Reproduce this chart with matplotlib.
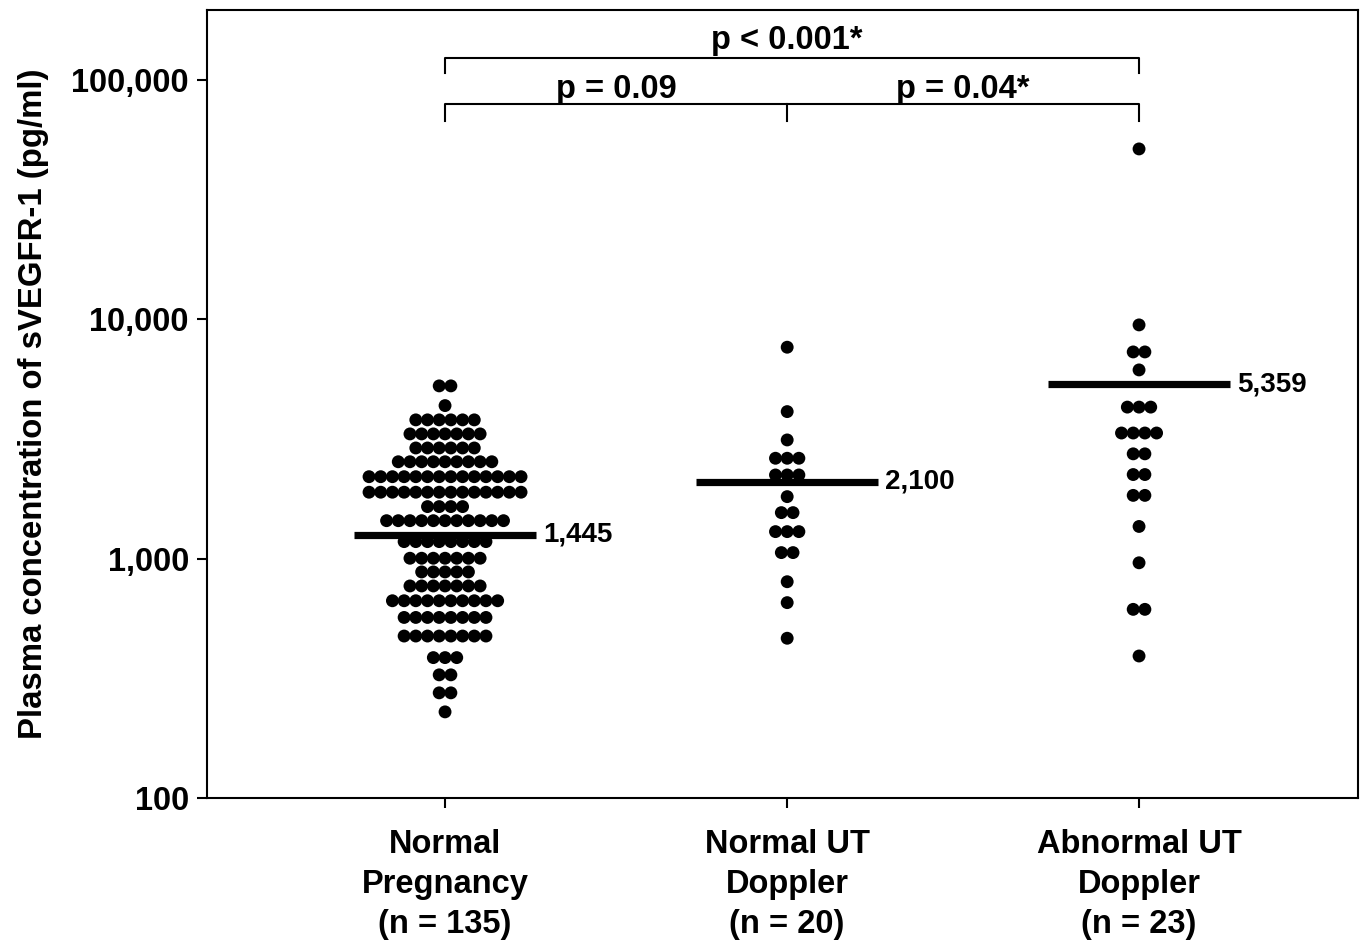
import matplotlib
matplotlib.use("Agg")
import matplotlib.pyplot as plt
import numpy as np

plt.rcParams["font.family"] = ["Liberation Sans", "DejaVu Sans"]
plt.rcParams["font.weight"] = "bold"

# data: each row of the dot plot is one level with a number of dots
groups = ["Normal\nPregnancy\n(n = 135)", "Normal UT\nDoppler\n(n = 20)", "Abnormal UT\nDoppler\n(n = 23)"]

normal_preg_levels = [5270, 4360, 3800, 3320, 2900, 2540, 2200, 1895, 1650, 1441, 1178,
                      1004, 880, 769, 667, 568, 475, 386, 327, 275, 229]
normal_preg_counts = [2, 1, 6, 7, 6, 9, 14, 14, 4, 11, 8, 7, 5, 7, 10, 8, 8, 3, 2, 2, 1]

normal_ut_levels = [7645, 4115, 3133, 2627, 2237, 1816, 1557, 1297, 1060, 801, 655, 465]
normal_ut_counts = [1, 1, 1, 3, 3, 1, 2, 3, 2, 1, 1, 1]

abnormal_ut_levels = [51500, 9475, 7306, 6145, 4297, 3349, 2741, 2246, 1838, 1363, 961, 614, 392]
abnormal_ut_counts = [1, 1, 2, 1, 3, 4, 2, 2, 2, 1, 1, 2, 1]

median_lines = [1260, 2100, 5359]
median_labels = ["1,445", "2,100", "5,359"]

p_labels = ["p = 0.09", "p = 0.04*", "p < 0.001*"]

DOT_STEP = 0.0337
BAR_HALF = 0.262

fig = plt.figure(figsize=(13.62, 9.42), dpi=100)
ax = fig.add_axes([207 / 1362, 144 / 942, 1151 / 1362, 788 / 942])

all_levels = [normal_preg_levels, normal_ut_levels, abnormal_ut_levels]
all_counts = [normal_preg_counts, normal_ut_counts, abnormal_ut_counts]
positions = np.array([0, 0.986, 2])

for pos, levels, counts in zip(positions, all_levels, all_counts):
    xs, ys = [], []
    for lev, k in zip(levels, counts):
        offs = (np.arange(k) - (k - 1) / 2) * DOT_STEP
        xs.extend(pos + offs)
        ys.extend([lev] * k)
    ax.scatter(xs, ys, s=86, color="black", edgecolors="none", zorder=2)

for pos, med, lab in zip(positions, median_lines, median_labels):
    ax.plot([pos - BAR_HALF, pos + BAR_HALF], [med, med], color="black", lw=5.2,
            solid_capstyle="butt", zorder=3)
    ax.annotate(lab, (pos + BAR_HALF, med), xytext=(5, 0), textcoords="offset points",
                va="center", ha="left", fontsize=20, fontweight="bold")

ax.set_yscale("log")
ax.set_ylim(100, 196000)
ax.set_xlim(-0.686, 2.631)
ax.set_yticks([100, 1000, 10000, 100000])
ax.set_yticklabels(["100", "1,000", "10,000", "100,000"])
ax.yaxis.set_minor_locator(matplotlib.ticker.NullLocator())
ax.set_xticks(positions)
ax.set_xticklabels(groups, linespacing=1.38)
ax.tick_params(axis="both", direction="out", length=7, width=1.5, labelsize=23.5)
ax.tick_params(axis="x", pad=15)
ax.tick_params(axis="y", pad=6)
for lab in ax.get_xticklabels() + ax.get_yticklabels():
    lab.set_fontweight("bold")
for sp in ax.spines.values():
    sp.set_linewidth(1.5)

ax.set_ylabel("Plasma concentration of sVEGFR-1 (pg/ml)", fontsize=23.7, fontweight="bold",
              labelpad=16)

# significance brackets
def bracket(x0, x1, y_line, y_leg, mids=()):
    ax.plot([x0, x0, x1, x1], [y_leg, y_line, y_line, y_leg], color="black", lw=1.5,
            zorder=2)
    for m in mids:
        ax.plot([m, m], [y_line, y_leg], color="black", lw=1.5)

low_y, top_y = 79400, 123700
bracket(positions[0], positions[2], low_y, 67400, mids=[positions[1]])
bracket(positions[0], positions[2], top_y, 107100)
for x, y, lab, dy in [((positions[0] + positions[1]) / 2, low_y, p_labels[0], -1),
                      ((positions[1] + positions[2]) / 2, low_y, p_labels[1], -1),
                      (positions[1], top_y, p_labels[2], 1)]:
    ax.annotate(lab, (x, y), xytext=(0, dy), textcoords="offset points",
                ha="center", va="bottom", fontsize=23.5, fontweight="bold")

fig.savefig("out.png", dpi=100)
